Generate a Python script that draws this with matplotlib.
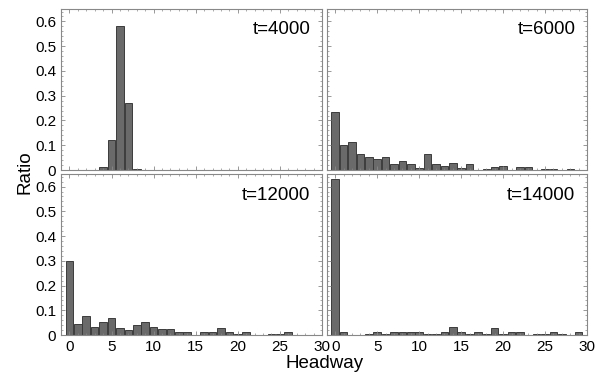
import matplotlib
matplotlib.use("Agg")
import matplotlib.pyplot as plt
from matplotlib.ticker import MultipleLocator

plt.rcParams['font.family'] = ['Liberation Sans', 'DejaVu Sans']

headway = list(range(30))

ratio_4000 = [0, 0, 0, 0, 0.012, 0.12, 0.58, 0.27, 0.005, 0,
              0, 0, 0, 0, 0, 0, 0, 0, 0, 0,
              0, 0, 0, 0, 0, 0, 0, 0, 0, 0]
ratio_6000 = [0.235, 0.10, 0.113, 0.065, 0.051, 0.043, 0.051, 0.023, 0.036, 0.023,
              0.008, 0.065, 0.023, 0.016, 0.03, 0.008, 0.023, 0, 0.005, 0.012,
              0.018, 0, 0.012, 0.012, 0, 0.005, 0.005, 0, 0.005, 0]
ratio_12000 = [0.30, 0.047, 0.077, 0.034, 0.055, 0.07, 0.027, 0.019, 0.04, 0.055,
               0.034, 0.026, 0.026, 0.012, 0.012, 0, 0.012, 0.012, 0.027, 0.012,
               0.006, 0.012, 0, 0, 0.006, 0.006, 0.012, 0, 0, 0]
ratio_14000 = [0.632, 0.012, 0, 0, 0.006, 0.012, 0.006, 0.012, 0.012, 0.012,
               0.012, 0.006, 0.006, 0.012, 0.034, 0.012, 0.006, 0.012, 0.006, 0.027,
               0.006, 0.012, 0.012, 0, 0.006, 0.006, 0.012, 0.006, 0, 0.012]

labels = ["t=4000", "t=6000", "t=12000", "t=14000"]
series = [ratio_4000, ratio_6000, ratio_12000, ratio_14000]
yticks = [0, 0.1, 0.2, 0.3, 0.4, 0.5, 0.6]
ytick_labels = ["0", "0.1", "0.2", "0.3", "0.4", "0.5", "0.6"]
xticks = [0, 5, 10, 15, 20, 25, 30]

fig = plt.figure(figsize=(6.04, 3.77), dpi=100)
# left, bottom, width, height
boxes = [(0.101, 0.549, 0.432, 0.427),
         (0.541, 0.549, 0.431, 0.427),
         (0.101, 0.111, 0.432, 0.427),
         (0.541, 0.111, 0.431, 0.427)]

for i, (box, vals, lab) in enumerate(zip(boxes, series, labels)):
    ax = fig.add_axes(box)
    ax.bar(headway, vals, width=0.9, color="#6a6a6a", edgecolor="#3c3c3c", linewidth=0.7)
    ax.set_xlim(-1, 30)
    ax.set_ylim(0, 0.65)
    ax.set_xticks(xticks)
    ax.set_yticks(yticks)
    ax.xaxis.set_minor_locator(MultipleLocator(1))
    ax.yaxis.set_minor_locator(MultipleLocator(0.02))
    ax.tick_params(which="both", direction="in", top=True, right=True,
                   colors="#888888", labelcolor="black", labelsize=11)
    ax.tick_params(which="major", length=3, width=0.6)
    ax.tick_params(which="minor", length=1.5, width=0.5)
    for sp in ax.spines.values():
        sp.set_color("#888888")
        sp.set_linewidth(0.8)
    if i % 2 == 0:
        ax.set_yticklabels(ytick_labels)
    else:
        ax.set_yticklabels([])
    if i < 2:
        ax.set_xticklabels([])
    ax.text(0.955, 0.87, lab, transform=ax.transAxes, ha="right", va="center", fontsize=13.5)

fig.text(0.041, 0.544, "Ratio", rotation=90, ha="center", va="center", fontsize=13.5)
fig.text(0.538, 0.036, "Headway", ha="center", va="center", fontsize=13.5)

fig.savefig("out.png", dpi=100)
